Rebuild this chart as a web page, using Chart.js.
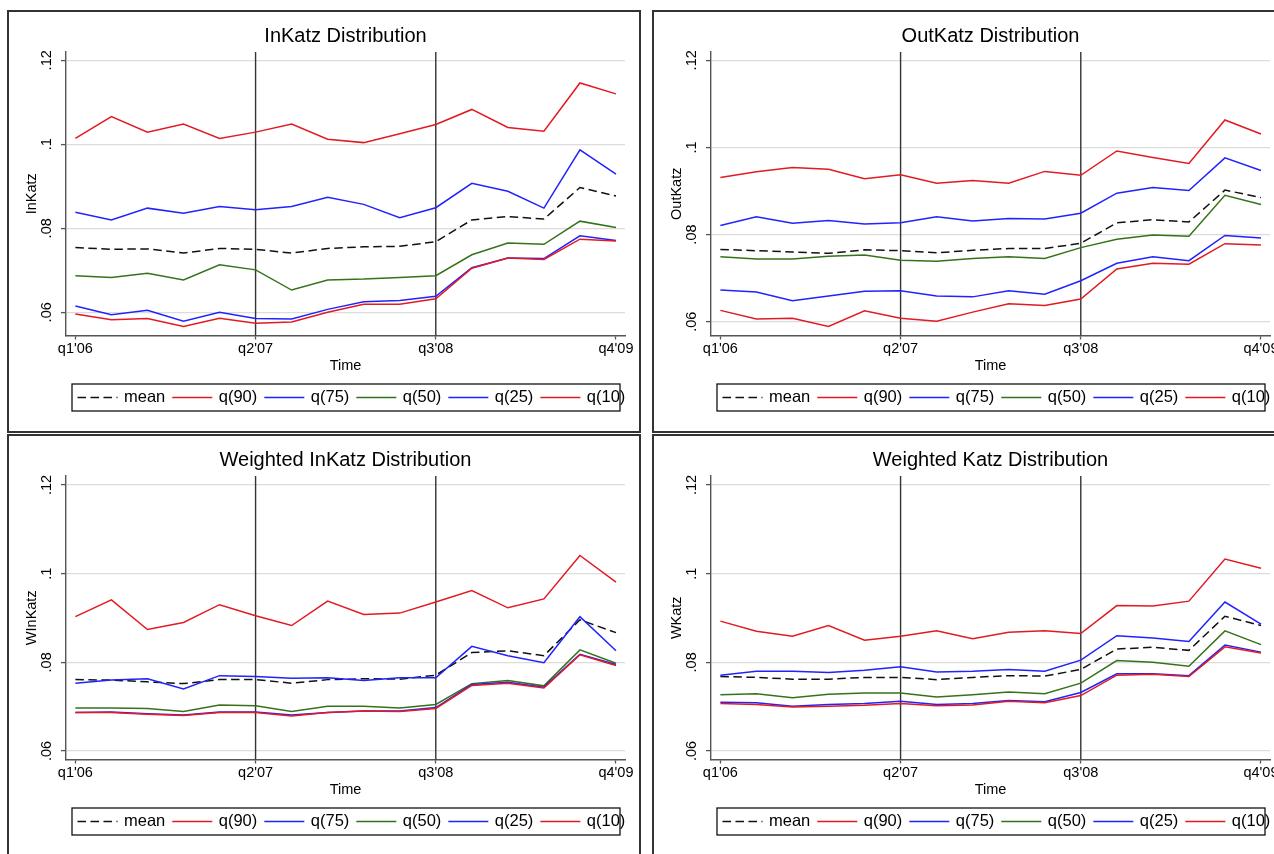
<!DOCTYPE html>
<html>
<head>
<meta charset="utf-8">
<title>Katz centrality distributions</title>
<script src="https://cdn.jsdelivr.net/npm/chart.js@4.4.1/dist/chart.umd.min.js"></script>
<style>
  html, body { margin: 0; padding: 0; background: #fff; }
  body { width: 1274px; height: 854px; overflow: hidden; position: relative; }
  .panel { position: absolute; width: 630px; height: 419px; outline: 2px solid #333; background: #fff; }
  .panel canvas { display: block; }
</style>
</head>
<body>
<div class="panel" style="left:9px; top:12px"><canvas id="inkatz" width="630" height="419"></canvas></div>
<div class="panel" style="left:654px; top:12px"><canvas id="outkatz" width="630" height="419"></canvas></div>
<div class="panel" style="left:9px; top:436px"><canvas id="winkatz" width="630" height="419"></canvas></div>
<div class="panel" style="left:654px; top:436px"><canvas id="wkatz" width="630" height="419"></canvas></div>

<script>
// quarters q1'06 .. q4'09
var quarters = ["q1'06", "q2'06", "q3'06", "q4'06", "q1'07", "q2'07", "q3'07", "q4'07",
                "q1'08", "q2'08", "q3'08", "q4'08", "q1'09", "q2'09", "q3'09", "q4'09"];
var xTickQuarters = ["q1'06", "q2'07", "q3'08", "q4'09"];
var eventQuarters = ["q2'07", "q3'08"];
var yTicks = [0.06, 0.08, 0.1, 0.12];
var yTickLabels = ['.06', '.08', '.1', '.12'];
var seriesLabels = ['mean', 'q(90)', 'q(75)', 'q(50)', 'q(25)', 'q(10)'];

// InKatz
var inKatzMean = [0.0754, 0.0750, 0.0751, 0.0741, 0.0752, 0.0750, 0.0741, 0.0752, 0.0756, 0.0757, 0.0768, 0.0820, 0.0828, 0.0822, 0.0897, 0.0877];
var inKatzQ90  = [0.1014, 0.1066, 0.1029, 0.1048, 0.1014, 0.1029, 0.1048, 0.1012, 0.1004, 0.1025, 0.1047, 0.1083, 0.1040, 0.1031, 0.1146, 0.1120];
var inKatzQ75  = [0.0838, 0.0820, 0.0848, 0.0836, 0.0852, 0.0844, 0.0852, 0.0874, 0.0857, 0.0825, 0.0849, 0.0907, 0.0888, 0.0848, 0.0987, 0.0929];
var inKatzQ50  = [0.0687, 0.0683, 0.0693, 0.0677, 0.0713, 0.0701, 0.0653, 0.0677, 0.0679, 0.0683, 0.0687, 0.0737, 0.0765, 0.0762, 0.0817, 0.0802];
var inKatzQ25  = [0.0615, 0.0594, 0.0605, 0.0579, 0.0600, 0.0585, 0.0584, 0.0607, 0.0625, 0.0628, 0.0638, 0.0706, 0.0729, 0.0728, 0.0782, 0.0771];
var inKatzQ10  = [0.0596, 0.0582, 0.0585, 0.0566, 0.0586, 0.0574, 0.0577, 0.0600, 0.0619, 0.0619, 0.0632, 0.0705, 0.0729, 0.0726, 0.0774, 0.0770];

// OutKatz
var outKatzMean = [0.0766, 0.0763, 0.0760, 0.0757, 0.0765, 0.0763, 0.0758, 0.0764, 0.0768, 0.0768, 0.0780, 0.0827, 0.0834, 0.0829, 0.0902, 0.0885];
var outKatzQ90  = [0.0931, 0.0944, 0.0954, 0.0950, 0.0928, 0.0937, 0.0918, 0.0924, 0.0918, 0.0945, 0.0936, 0.0992, 0.0977, 0.0963, 0.1063, 0.1031];
var outKatzQ75  = [0.0821, 0.0841, 0.0826, 0.0832, 0.0824, 0.0827, 0.0841, 0.0831, 0.0837, 0.0836, 0.0849, 0.0895, 0.0908, 0.0901, 0.0976, 0.0947];
var outKatzQ50  = [0.0749, 0.0744, 0.0744, 0.0750, 0.0753, 0.0741, 0.0739, 0.0745, 0.0749, 0.0745, 0.0770, 0.0789, 0.0799, 0.0796, 0.0890, 0.0869];
var outKatzQ25  = [0.0673, 0.0668, 0.0648, 0.0659, 0.0670, 0.0671, 0.0659, 0.0657, 0.0671, 0.0663, 0.0694, 0.0734, 0.0749, 0.0740, 0.0798, 0.0792];
var outKatzQ10  = [0.0626, 0.0606, 0.0608, 0.0589, 0.0625, 0.0608, 0.0601, 0.0622, 0.0641, 0.0637, 0.0652, 0.0721, 0.0734, 0.0732, 0.0779, 0.0776];

// Weighted InKatz
var wInKatzMean = [0.0761, 0.0760, 0.0756, 0.0752, 0.0761, 0.0761, 0.0753, 0.0761, 0.0763, 0.0762, 0.0771, 0.0822, 0.0826, 0.0815, 0.0896, 0.0867];
var wInKatzQ90  = [0.0903, 0.0941, 0.0874, 0.0890, 0.0930, 0.0905, 0.0883, 0.0938, 0.0908, 0.0911, 0.0936, 0.0962, 0.0923, 0.0943, 0.1041, 0.0981];
var wInKatzQ75  = [0.0753, 0.0760, 0.0763, 0.0740, 0.0770, 0.0768, 0.0764, 0.0765, 0.0759, 0.0765, 0.0765, 0.0836, 0.0815, 0.0799, 0.0903, 0.0826];
var wInKatzQ50  = [0.0697, 0.0697, 0.0696, 0.0689, 0.0704, 0.0702, 0.0689, 0.0701, 0.0701, 0.0697, 0.0705, 0.0752, 0.0759, 0.0747, 0.0828, 0.0798];
var wInKatzQ25  = [0.0687, 0.0688, 0.0684, 0.0681, 0.0688, 0.0688, 0.0681, 0.0687, 0.0690, 0.0690, 0.0698, 0.0750, 0.0755, 0.0744, 0.0818, 0.0795];
var wInKatzQ10  = [0.0687, 0.0687, 0.0683, 0.0680, 0.0687, 0.0687, 0.0679, 0.0687, 0.0690, 0.0689, 0.0696, 0.0748, 0.0753, 0.0742, 0.0817, 0.0793];

// Weighted Katz
var wKatzMean = [0.0768, 0.0766, 0.0762, 0.0762, 0.0766, 0.0766, 0.0761, 0.0766, 0.0770, 0.0769, 0.0784, 0.0830, 0.0834, 0.0827, 0.0904, 0.0883];
var wKatzQ90  = [0.0893, 0.0870, 0.0859, 0.0883, 0.0850, 0.0859, 0.0871, 0.0853, 0.0868, 0.0871, 0.0865, 0.0928, 0.0927, 0.0938, 0.1033, 0.1012];
var wKatzQ75  = [0.0771, 0.0780, 0.0780, 0.0777, 0.0782, 0.0790, 0.0778, 0.0780, 0.0784, 0.0780, 0.0805, 0.0860, 0.0855, 0.0847, 0.0936, 0.0886];
var wKatzQ50  = [0.0727, 0.0729, 0.0720, 0.0728, 0.0731, 0.0731, 0.0722, 0.0727, 0.0733, 0.0729, 0.0753, 0.0804, 0.0800, 0.0791, 0.0871, 0.0840];
var wKatzQ25  = [0.0710, 0.0709, 0.0701, 0.0705, 0.0707, 0.0712, 0.0705, 0.0707, 0.0714, 0.0711, 0.0732, 0.0774, 0.0774, 0.0770, 0.0839, 0.0823];
var wKatzQ10  = [0.0707, 0.0705, 0.0699, 0.0701, 0.0703, 0.0707, 0.0702, 0.0704, 0.0712, 0.0709, 0.0725, 0.0771, 0.0773, 0.0768, 0.0835, 0.0821];

var RED = 'rgb(226, 26, 34)';
var BLUE = 'rgb(34, 34, 255)';
var GREEN = 'rgb(54, 114, 26)';
var seriesColors = ['#111', RED, BLUE, GREEN, BLUE, RED];
var FONT = '"Liberation Sans", Arial, Helvetica, sans-serif';
var AXIS = '#555';

Chart.defaults.font.family = FONT;
Chart.defaults.color = '#000';

// vertical reference lines at the two event quarters
var eventLines = {
    id: 'eventLines',
    beforeDatasetsDraw: function(chart) {
        var ctx = chart.ctx, area = chart.chartArea, x = chart.scales.x;
        ctx.save();
        ctx.strokeStyle = '#333';
        ctx.lineWidth = 1.4;
        eventQuarters.forEach(function(q) {
            var px = x.getPixelForValue(quarters.indexOf(q));
            ctx.beginPath();
            ctx.moveTo(px, area.top);
            ctx.lineTo(px, area.bottom);
            ctx.stroke();
        });
        ctx.restore();
    }
};

// single-row legend in a framed box under the axis title
var framedLegend = {
    id: 'framedLegend',
    afterDraw: function(chart) {
        var ctx = chart.ctx, area = chart.chartArea;
        var left = area.left + 6, right = area.right - 5;
        var top = area.bottom + 48.5, h = 27;
        var midY = top + h / 2;
        var x = left + 5.5;
        ctx.save();
        ctx.font = '16.5px ' + FONT;
        ctx.textBaseline = 'middle';
        ctx.textAlign = 'left';
        chart.data.datasets.forEach(function(ds) {
            ctx.beginPath();
            ctx.strokeStyle = ds.borderColor;
            ctx.lineWidth = ds.borderWidth;
            ctx.setLineDash(ds.borderDash || []);
            ctx.moveTo(x, midY);
            ctx.lineTo(x + 40, midY);
            ctx.stroke();
            ctx.setLineDash([]);
            ctx.fillStyle = '#000';
            ctx.fillText(ds.label, x + 46.5, midY);
            x += 46.5 + ctx.measureText(ds.label).width + 7;
        });
        ctx.strokeStyle = '#111';
        ctx.lineWidth = 1.3;
        ctx.strokeRect(left, top, right - left, h);
        ctx.restore();
    }
};

function makePanel(id, title, yTitle, yRange, series) {
    var datasets = series.map(function(values, i) {
        return {
            label: seriesLabels[i],
            data: values.map(function(v, q) { return {x: q, y: v}; }),
            borderColor: seriesColors[i],
            borderDash: i === 0 ? [8.5, 4.5] : [],
            borderWidth: 1.5,
            pointRadius: 0,
            tension: 0,
            order: series.length - i
        };
    });

    return new Chart(document.getElementById(id), {
        type: 'line',
        data: { datasets: datasets },
        plugins: [eventLines, framedLegend],
        options: {
            responsive: false,
            animation: false,
            devicePixelRatio: 1,
            layout: { padding: { left: 0, right: 14, top: 0, bottom: 56.5 } },
            plugins: {
                legend: { display: false },
                tooltip: { enabled: false },
                title: {
                    display: true,
                    text: title,
                    fullSize: false,
                    color: '#000',
                    font: { size: 20, weight: 'normal' },
                    padding: { top: 12, bottom: 4 }
                }
            },
            scales: {
                x: {
                    type: 'linear',
                    min: -0.26,
                    max: 15.25,
                    afterBuildTicks: function(scale) {
                        scale.ticks = xTickQuarters.map(function(q) { return { value: quarters.indexOf(q) }; });
                    },
                    afterFit: function(scale) { scale.height = 39; },
                    ticks: {
                        callback: function(v) { return quarters[v]; },
                        font: { size: 14.5 },
                        color: '#000',
                        padding: 1,
                        maxRotation: 0,
                        autoSkip: false
                    },
                    grid: { drawOnChartArea: false, tickLength: 4, tickColor: AXIS, tickWidth: 1.3 },
                    border: { color: AXIS, width: 1.4 },
                    title: { display: true, text: 'Time', color: '#000', font: { size: 14.5 }, padding: { top: 0, bottom: 0 } }
                },
                y: {
                    min: yRange[0],
                    max: yRange[1],
                    afterBuildTicks: function(scale) {
                        scale.ticks = yTicks.map(function(v) { return { value: v }; });
                    },
                    afterFit: function(scale) { scale.width = 57; },
                    ticks: {
                        callback: function(v, i) { return yTickLabels[i]; },
                        minRotation: 90,
                        maxRotation: 90,
                        crossAlign: 'center',
                        padding: 4,
                        color: '#000',
                        font: { size: 14.5 }
                    },
                    grid: { color: '#dcdcdc', lineWidth: 1.2, tickLength: 5, tickColor: AXIS, tickWidth: 1.3 },
                    border: { color: AXIS, width: 1.4 },
                    title: { display: true, text: yTitle, color: '#000', font: { size: 14.5 }, padding: { top: 14.6, bottom: 0 } }
                }
            }
        }
    });
}

makePanel('inkatz', 'InKatz Distribution', 'InKatz', [0.054476, 0.121976],
    [inKatzMean, inKatzQ90, inKatzQ75, inKatzQ50, inKatzQ25, inKatzQ10]);
makePanel('outkatz', 'OutKatz Distribution', 'OutKatz', [0.056832, 0.121905],
    [outKatzMean, outKatzQ90, outKatzQ75, outKatzQ50, outKatzQ25, outKatzQ10]);
makePanel('winkatz', 'Weighted InKatz Distribution', 'WInKatz', [0.058083, 0.122030],
    [wInKatzMean, wInKatzQ90, wInKatzQ75, wInKatzQ50, wInKatzQ25, wInKatzQ10]);
makePanel('wkatz', 'Weighted Katz Distribution', 'WKatz', [0.058083, 0.122030],
    [wKatzMean, wKatzQ90, wKatzQ75, wKatzQ50, wKatzQ25, wKatzQ10]);
</script>
</body>
</html>
